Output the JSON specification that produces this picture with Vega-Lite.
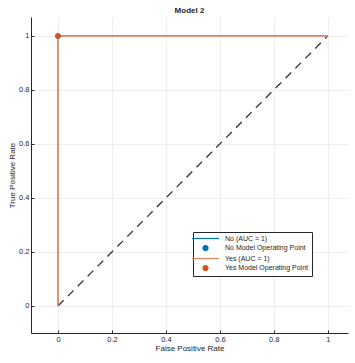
{
  "$schema": "https://vega.github.io/schema/vega-lite/v6.json",
  "width": 317,
  "height": 316,
  "autosize": {"type": "none"},
  "padding": {"left": 31, "top": 17, "right": 7, "bottom": 30},
  "background": "white",
  "title": {"text": "Model 2", "fontSize": 8, "font": "Liberation Sans", "fontWeight": "bold", "color": "#262626", "offset": 2, "anchor": "middle"},
  "config": {
    "view": {"stroke": null},
    "font": "Liberation Sans",
    "axis": {
      "labelFont": "Liberation Sans", "labelFontSize": 7.5, "labelColor": "#262626",
      "titleFont": "Liberation Sans", "titleFontSize": 8, "titleColor": "#262626", "titleFontWeight": "normal",
      "domainColor": "#262626", "domainWidth": 1, "tickColor": "#262626", "tickSize": 3,
      "gridColor": "#e6e6e6", "gridWidth": 0.7
    },
    "legend": {
      "title": null, "orient": "none", "legendX": 162, "legendY": 215,
      "labelFont": "Liberation Sans", "labelFontSize": 7, "labelColor": "#262626",
      "symbolSize": 25, "symbolStrokeWidth": 1.2, "symbolOffset": 6, "rowPadding": 0.5, "labelOffset": 16,
      "strokeColor": "#262626", "fillColor": "white", "padding": 3, "cornerRadius": 0
    }
  },
  "datasets": {
    "roc": [
      {"series": "No (AUC = 1)", "fpr": 0, "tpr": 0, "step": 0},
      {"series": "No (AUC = 1)", "fpr": 0, "tpr": 1, "step": 1},
      {"series": "No (AUC = 1)", "fpr": 1, "tpr": 1, "step": 2},
      {"series": "Yes (AUC = 1)", "fpr": 0, "tpr": 0, "step": 0},
      {"series": "Yes (AUC = 1)", "fpr": 0, "tpr": 1, "step": 1},
      {"series": "Yes (AUC = 1)", "fpr": 1, "tpr": 1, "step": 2}
    ],
    "ops": [
      {"series": "No Model Operating Point", "fpr": 0, "tpr": 1},
      {"series": "Yes Model Operating Point", "fpr": 0, "tpr": 1}
    ],
    "diag": [
      {"fpr": 0, "tpr": 0},
      {"fpr": 1, "tpr": 1}
    ]
  },
  "layer": [
    {
      "data": {"name": "diag"},
      "mark": {"type": "line", "color": "#333333", "strokeDash": [8, 6], "strokeWidth": 1.3},
      "encoding": {
        "x": {"field": "fpr", "type": "quantitative", "scale": {"domain": [-0.1, 1.075], "nice": false, "zero": false}, "axis": {"title": "False Positive Rate", "values": [0, 0.2, 0.4, 0.6, 0.8, 1], "format": "~g", "tickSize": -3, "titlePadding": 2, "labelPadding": 5}},
        "y": {"field": "tpr", "type": "quantitative", "scale": {"domain": [-0.1, 1.07], "nice": false, "zero": false}, "axis": {"title": "True Positive Rate", "values": [0, 0.2, 0.4, 0.6, 0.8, 1], "format": "~g", "tickSize": -3, "titlePadding": 2, "labelPadding": 5}}
      }
    },
    {
      "data": {"name": "roc"},
      "transform": [{"filter": "datum.series === 'No (AUC = 1)'"}],
      "mark": {"type": "line", "strokeWidth": 0.6},
      "encoding": {
        "x": {"field": "fpr", "type": "quantitative"},
        "y": {"field": "tpr", "type": "quantitative"},
        "order": {"field": "step"},
        "color": {
          "field": "series", "type": "nominal",
          "scale": {"domain": ["No (AUC = 1)", "No Model Operating Point", "Yes (AUC = 1)", "Yes Model Operating Point"], "range": ["#0072BD", "#0072BD", "#E5855F", "#D95319"]}
        }
      }
    },
    {
      "data": {"name": "roc"},
      "transform": [{"filter": "datum.series === 'Yes (AUC = 1)'"}],
      "mark": {"type": "line", "strokeWidth": 1.6},
      "encoding": {
        "x": {"field": "fpr", "type": "quantitative"},
        "y": {"field": "tpr", "type": "quantitative"},
        "order": {"field": "step"},
        "color": {"field": "series", "type": "nominal"}
      }
    },
    {
      "data": {"name": "ops"},
      "mark": {"type": "point", "filled": true, "opacity": 1, "size": 30},
      "encoding": {
        "x": {"field": "fpr", "type": "quantitative"},
        "y": {"field": "tpr", "type": "quantitative"},
        "color": {
          "field": "series", "type": "nominal",
          "legend": {"encode": {"symbols": {"update": {"stroke": {"scale": "color", "field": "value"}}}}}
        },
        "shape": {
          "field": "series", "type": "nominal",
          "scale": {"domain": ["No (AUC = 1)", "No Model Operating Point", "Yes (AUC = 1)", "Yes Model Operating Point"], "range": ["M-5.4,0L5.4,0", "circle", "M-5.4,0L5.4,0", "circle"]},
          "legend": {"encode": {"symbols": {"update": {"stroke": {"scale": "color", "field": "value"}}}}}
        }
      }
    }
  ]
}
